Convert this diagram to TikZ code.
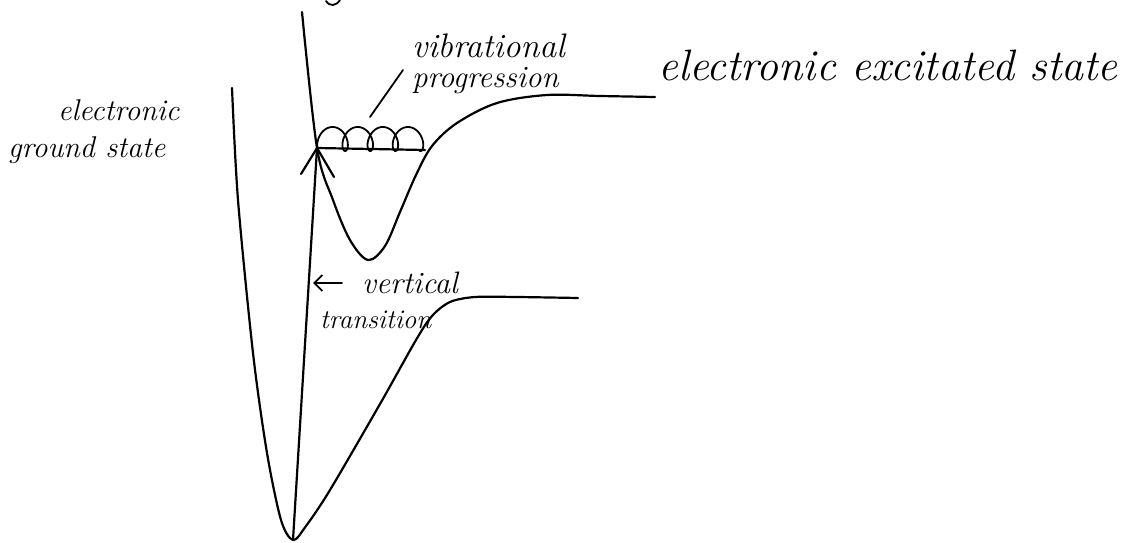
\documentclass[tikz,border=0pt]{standalone}
\usetikzlibrary{arrows.meta,calc}
\tikzset{
  curve/.style={line width=2.2pt, line cap=round, line join=round},
  thin/.style={line width=1.8pt, line cap=round, line join=round},
  lbl/.style={inner sep=0pt, anchor=base west, font=\itshape}
}
\begin{document}
\begin{tikzpicture}[x=1pt,y=-1pt]
\useasboundingbox[fill=white] (0,0) rectangle (1145,543);
% named points
\coordinate (gmin) at (293,540);
\coordinate (exc) at (317,148);
\coordinate (vibend) at (425,150);
\coordinate (ptrA) at (370,117);
\coordinate (ptrB) at (403,70);
\coordinate (vtA) at (342,283);
\coordinate (vtB) at (313,283);
% ground state curve
\draw[curve] plot[smooth, tension=0.5] coordinates {(232,88) (238,200) (253,353) (267,453) (281,520) (293,540) (306,526) (330,490) (380,404) (416,340) (432,316) (450,302) (475,297) (517,297) (578,298)};
% excited state curve
\draw[curve] plot[smooth, tension=0.55] coordinates {(302,12) (317,148) (333,200) (350,240) (368,260) (385,246) (400,212) (416,175) (432,146) (457,123) (497,103) (547,95) (600,96) (655,97)};
% vertical transition with open arrowhead
\draw[curve] (gmin) -- (exc);
\draw[curve] ($(exc)+(-16,26)$) -- (exc) -- ($(exc)+(17,29)$);
% vibrational level line
\draw[curve] (exc) -- (vibend);
% vibrational wave
\draw[thin] plot[domain=0.6:25.6, samples=300, variable=\t] ({320 + 4.0*\t - 8*sin(\t r)}, {139 + 12*cos(\t r)});
% pointer line
\draw[thin] (ptrA) -- (ptrB);
% small arrow for vertical transition
\draw[thin, -{Straight Barb[length=8pt,width=16pt,line width=1.8pt]}] (vtA) -- (vtB);
% top fragment
\draw[thin] (326,1) .. controls (330,7) and (336,6) .. (340,0);
% labels
\node[lbl, font=\itshape\fontsize{30}{34}\selectfont] (eg1) at (58,120) {electronic};
\node[lbl, font=\itshape\fontsize{30}{34}\selectfont] (eg2) at (8,157) {ground state};
\node[lbl, font=\itshape\fontsize{34}{38}\selectfont] (vib1) at (412,58) {vibrational};
\node[lbl, font=\itshape\fontsize{31}{34}\selectfont] (vib2) at (412,88) {progression};
\node[lbl, font=\itshape\fontsize{44}{48}\selectfont] (exs) at (658,80) {electronic excitated state};
\node[lbl, font=\itshape\fontsize{31}{34}\selectfont] (vt1) at (362,293) {vertical};
\node[lbl, font=\itshape\fontsize{27}{30}\selectfont] (vt2) at (320,328) {transition};
\end{tikzpicture}
\end{document}
